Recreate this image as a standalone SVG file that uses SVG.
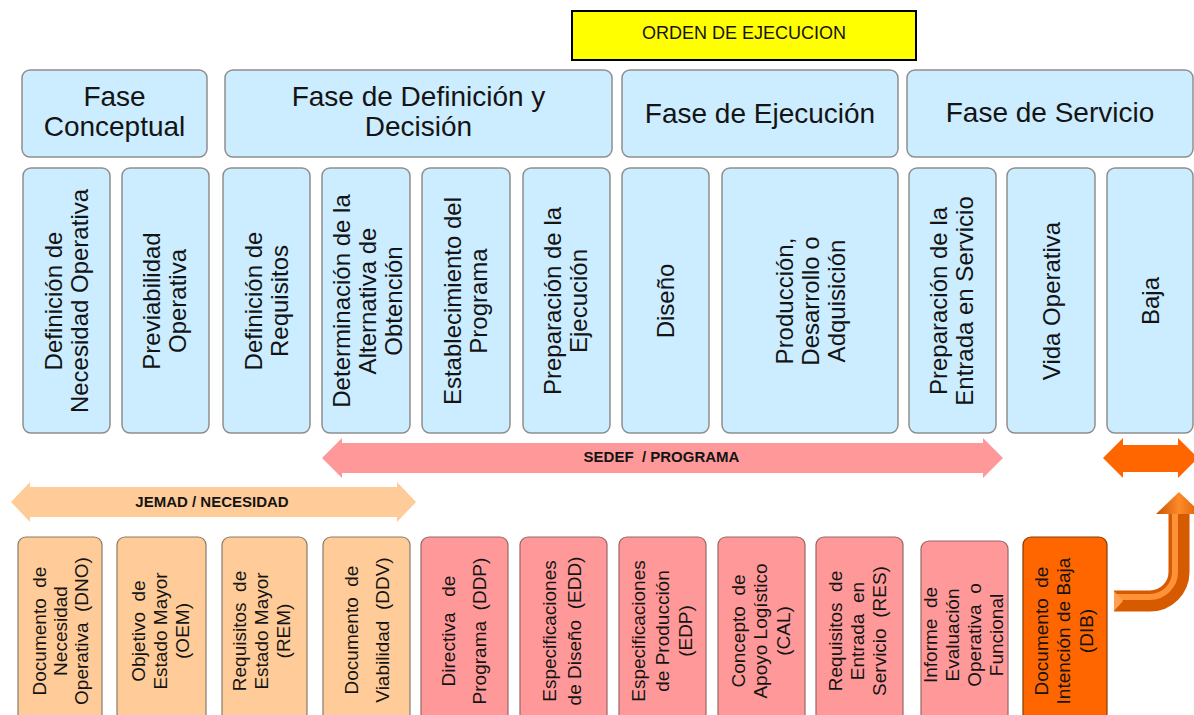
<svg xmlns="http://www.w3.org/2000/svg" width="1194" height="715" viewBox="0 0 1194 715">
<defs>
<style>
.blue{fill:#CCECFF;stroke:#8E8E8E;stroke-width:1.5}
.peach{fill:#FFCC99;stroke:#8C7A68;stroke-width:1.2}
.pink{fill:#FF9999;stroke:#9A6666;stroke-width:1.2}
.orange{fill:#FF6600;stroke:#8A3A00;stroke-width:1.2}
text{font-family:"Liberation Sans",Arial,sans-serif;fill:#141414}
.h{font-size:28px;text-anchor:middle}
.v{font-size:24px;text-anchor:middle}
.d{font-size:19px;text-anchor:middle}
.lbl{font-size:15px;font-weight:bold;text-anchor:middle}
.ord{font-size:18px;text-anchor:middle}
</style>
<linearGradient id="headG" x1="0" y1="0" x2="1" y2="0">
<stop offset="0" stop-color="#C85400"/><stop offset="0.5" stop-color="#FF8A2A"/><stop offset="1" stop-color="#D85E00"/>
</linearGradient>
</defs>
<rect width="1194" height="715" fill="#FFFFFF"/>

<g id="orden">
<rect x="572" y="11" width="344" height="49" fill="#FFFF00" stroke="#000" stroke-width="2"/>
<text class="ord" x="744" y="39">ORDEN DE EJECUCION</text>
</g>

<g id="fase-conceptual">
<rect class="blue" x="22" y="70" width="185" height="87" rx="8"/>
<text class="h"><tspan x="114.5" y="106">Fase</tspan><tspan x="114.5" y="136">Conceptual</tspan></text>
</g>
<g id="fase-definicion">
<rect class="blue" x="225" y="70" width="387" height="87" rx="8"/>
<text class="h"><tspan x="418.5" y="106">Fase de Definición y</tspan><tspan x="418.5" y="136">Decisión</tspan></text>
</g>
<g id="fase-ejecucion">
<rect class="blue" x="622" y="70" width="276" height="87" rx="8"/>
<text class="h" x="760" y="123">Fase de Ejecución</text>
</g>
<g id="fase-servicio">
<rect class="blue" x="907" y="70" width="286" height="87" rx="8"/>
<text class="h" x="1050" y="122">Fase de Servicio</text>
</g>

<g id="necesidad-operativa">
<rect class="blue" x="23" y="168" width="87" height="265" rx="8"/>
<text class="v" transform="rotate(-90)"><tspan x="-301" y="62">Definición de</tspan><tspan x="-301" y="88">Necesidad Operativa</tspan></text>
</g>
<g id="previabilidad">
<rect class="blue" x="122" y="168" width="87" height="265" rx="8"/>
<text class="v" transform="rotate(-90)"><tspan x="-301" y="160">Previabilidad</tspan><tspan x="-301" y="186">Operativa</tspan></text>
</g>
<g id="requisitos">
<rect class="blue" x="223" y="168" width="87" height="265" rx="8"/>
<text class="v" transform="rotate(-90)"><tspan x="-301" y="262">Definición de</tspan><tspan x="-301" y="288">Requisitos</tspan></text>
</g>
<g id="alternativa">
<rect class="blue" x="322" y="168" width="88" height="265" rx="8"/>
<text class="v" transform="rotate(-90)"><tspan x="-301" y="350">Determinación de la</tspan><tspan x="-301" y="376">Alternativa  de</tspan><tspan x="-301" y="402">Obtención</tspan></text>
</g>
<g id="establecimiento">
<rect class="blue" x="422" y="168" width="88" height="265" rx="8"/>
<text class="v" transform="rotate(-90)"><tspan x="-301" y="461">Establecimiento del</tspan><tspan x="-301" y="487">Programa</tspan></text>
</g>
<g id="preparacion-ejecucion">
<rect class="blue" x="523" y="168" width="87" height="265" rx="8"/>
<text class="v" transform="rotate(-90)"><tspan x="-301" y="561">Preparación de la</tspan><tspan x="-301" y="587">Ejecución</tspan></text>
</g>
<g id="diseno">
<rect class="blue" x="622" y="168" width="87" height="265" rx="8"/>
<text class="v" transform="rotate(-90)" x="-301" y="674">Diseño</text>
</g>
<g id="produccion">
<rect class="blue" x="722" y="168" width="176" height="265" rx="8"/>
<text class="v" transform="rotate(-90)"><tspan x="-301" y="793">Producción,</tspan><tspan x="-301" y="819">Desarrollo o</tspan><tspan x="-301" y="845">Adquisición</tspan></text>
</g>
<g id="entrada-servicio">
<rect class="blue" x="909" y="168" width="87" height="265" rx="8"/>
<text class="v" transform="rotate(-90)"><tspan x="-301" y="947">Preparación de la</tspan><tspan x="-301" y="973">Entrada en Servicio</tspan></text>
</g>
<g id="vida-operativa">
<rect class="blue" x="1007" y="168" width="88" height="265" rx="8"/>
<text class="v" transform="rotate(-90)" x="-301" y="1059.5">Vida Operativa</text>
</g>
<g id="baja">
<rect class="blue" x="1107" y="168" width="86" height="265" rx="8"/>
<text class="v" transform="rotate(-90)" x="-301" y="1158.5">Baja</text>
</g>

<g id="sedef-programa">
<polygon points="322,458 342,438 342,443 983,443 983,438 1003,458 983,478 983,473 342,473 342,478" fill="#FF9999"/>
<text class="lbl" x="661.5" y="462" xml:space="preserve">SEDEF  / PROGRAMA</text>
</g>
<g id="jemad-necesidad">
<polygon points="11,502 30,482 30,487 397,487 397,482 416,502 397,522 397,517 30,517 30,522" fill="#FFCC99"/>
<text class="lbl" x="212" y="507">JEMAD / NECESIDAD</text>
</g>
<g id="baja-span">
<polygon points="1103,458 1123,438 1123,445 1178,445 1178,438 1198,458 1178,478 1178,472 1123,472 1123,478" fill="#FF6600"/>
</g>

<g id="dno">
<rect class="peach" x="18" y="537" width="84" height="195" rx="8"/>
<text class="d" transform="rotate(-90)" xml:space="preserve"><tspan x="-631" y="46">Documento  de</tspan><tspan x="-631" y="67">Necesidad</tspan><tspan x="-631" y="88">Operativa  (DNO)</tspan></text>
</g>
<g id="oem">
<rect class="peach" x="117" y="537" width="89" height="195" rx="8"/>
<text class="d" transform="rotate(-90)" xml:space="preserve"><tspan x="-631" y="145">Objetivo  de</tspan><tspan x="-631" y="167">Estado Mayor</tspan><tspan x="-631" y="189">(OEM)</tspan></text>
</g>
<g id="rem">
<rect class="peach" x="222" y="537" width="85" height="195" rx="8"/>
<text class="d" transform="rotate(-90)" xml:space="preserve"><tspan x="-631" y="246">Requisitos  de</tspan><tspan x="-631" y="268">Estado Mayor</tspan><tspan x="-631" y="290">(REM)</tspan></text>
</g>
<g id="ddv">
<rect class="peach" x="323" y="537" width="87" height="195" rx="8"/>
<text class="d" transform="rotate(-90)" xml:space="preserve"><tspan x="-630" y="358">Documento  de</tspan><tspan x="-630" y="389">Viabilidad  (DDV)</tspan></text>
</g>
<g id="ddp">
<rect class="pink" x="421" y="537" width="87" height="195" rx="8"/>
<text class="d" transform="rotate(-90)" xml:space="preserve"><tspan x="-631" y="455">Directiva   de</tspan><tspan x="-631" y="486">Programa  (DDP)</tspan></text>
</g>
<g id="edd">
<rect class="pink" x="520" y="537" width="87" height="195" rx="8"/>
<text class="d" transform="rotate(-90)" xml:space="preserve"><tspan x="-631" y="556">Especificaciones</tspan><tspan x="-631" y="581">de Diseño  (EDD)</tspan></text>
</g>
<g id="edp">
<rect class="pink" x="619" y="537" width="87" height="195" rx="8"/>
<text class="d" transform="rotate(-90)"><tspan x="-631" y="645">Especificaciones</tspan><tspan x="-631" y="669">de Producción</tspan><tspan x="-631" y="692">(EDP)</tspan></text>
</g>
<g id="cal">
<rect class="pink" x="718" y="537" width="87" height="195" rx="8"/>
<text class="d" transform="rotate(-90)" xml:space="preserve"><tspan x="-631" y="745">Concepto  de</tspan><tspan x="-631" y="767">Apoyo Logístico</tspan><tspan x="-631" y="790">(CAL)</tspan></text>
</g>
<g id="res">
<rect class="pink" x="816" y="537" width="87" height="195" rx="8"/>
<text class="d" transform="rotate(-90)" xml:space="preserve"><tspan x="-631" y="842">Requisitos  de</tspan><tspan x="-631" y="864">Entrada  en</tspan><tspan x="-631" y="886">Servicio  (RES)</tspan></text>
</g>
<g id="informe">
<rect class="pink" x="921" y="541" width="87" height="195" rx="8"/>
<text class="d" transform="rotate(-90)" xml:space="preserve"><tspan x="-635" y="937">Informe  de</tspan><tspan x="-635" y="959">Evaluación</tspan><tspan x="-635" y="981">Operativa  o</tspan><tspan x="-635" y="1003">Funcional</tspan></text>
</g>
<g id="dib">
<rect class="orange" x="1023" y="537" width="84" height="195" rx="8"/>
<text class="d" transform="rotate(-90)" xml:space="preserve"><tspan x="-631" y="1048">Documento  de</tspan><tspan x="-631" y="1070">Intención de Baja</tspan><tspan x="-631" y="1093">(DIB)</tspan></text>
</g>

<g id="connectors">
<path d="M1114,601 H1150 A29,29 0 0 0 1179,572 V512" fill="none" stroke="#D65A00" stroke-width="21"/>
<path d="M1114,597 H1150 A25,25 0 0 0 1175,572 V512" fill="none" stroke="#FF9238" stroke-width="6"/>
<polygon points="1114,591 1123,601 1114,611" fill="#FFA050"/>
<polygon points="1156,514 1179,492 1202,514" fill="url(#headG)"/>
</g>
</svg>
